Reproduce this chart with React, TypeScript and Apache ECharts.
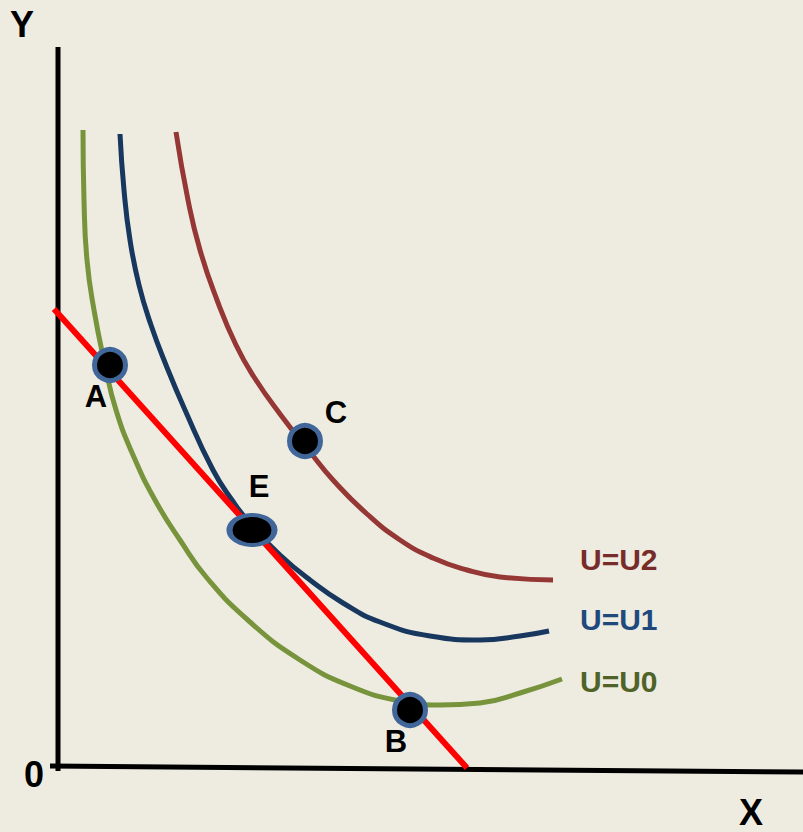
import React, { useEffect, useRef } from "react";
import * as echarts from "echarts";

// Units: arbitrary quantity units
const curveU0: [number, number][] = [
  [2.3, 63.8], [2.4, 56.8], [2.7, 50.8], [3.4, 45.8], [4.5, 40.3], [5.6, 35.8],
  [7.3, 31.3], [9.5, 26.8], [12.0, 22.8], [14.7, 19.0], [19.0, 14.6], [24.0, 10.8],
  [29.0, 8.2], [34.0, 6.7], [38.0, 6.3], [42.0, 6.5], [46.0, 7.5], [50.2, 8.9],
];
const curveU1: [number, number][] = [
  [6.0, 63.4], [6.4, 57.8], [7.0, 52.8], [7.9, 48.3], [9.1, 44.3], [10.6, 40.3],
  [12.5, 35.8], [15.3, 29.8], [17.2, 26.8], [19.2, 24.2], [22.0, 21.3], [25.0, 18.8],
  [28.3, 16.5], [32.0, 14.6], [37.0, 13.2], [42.0, 12.8], [46.0, 13.2], [48.9, 13.7],
];
const curveU2: [number, number][] = [
  [11.6, 63.6], [12.8, 56.8], [14.0, 51.8], [15.7, 46.8], [17.6, 42.3], [19.4, 39.1],
  [22.0, 35.4], [25.0, 31.6], [27.3, 28.8], [30.7, 25.4], [34.0, 22.8], [37.3, 21.0],
  [40.7, 19.8], [44.0, 19.1], [49.3, 18.8],
];
const budgetLine: [number, number][] = [[-0.6, 45.9], [40.7, 0]];
const yAxisLine: [number, number][] = [[-0.2, -0.3], [-0.2, 72.1]];
const xAxisLine: [number, number][] = [[-1.0, 0.2], [74.3, -0.4]];

const pointNames = ["A", "B", "C"];
const pointValues: [number, number][] = [[5.0, 40.3], [35.0, 5.8], [24.5, 32.7]];
const equilibriumName = "E";
const equilibriumValue: [number, number] = [19.2, 23.8];

const curveLabels = ["U=U2", "U=U1", "U=U0"];
const axisLabels = ["Y", "X", "0"];

const FONT = "'Liberation Sans', Arial, sans-serif";

export default function App() {
  const ref = useRef<HTMLDivElement>(null);
  useEffect(() => {
    if (!ref.current) return;
    const chart = echarts.init(ref.current, undefined, { renderer: "svg" });
    const lineSeries = (data: [number, number][], color: string, width: number, smooth: boolean, z = 2) => ({
      type: "line",
      data,
      smooth: smooth ? 0.5 : false,
      symbol: "none",
      clip: false,
      z,
      lineStyle: { color, width, cap: "butt" },
      silent: true,
    });
    const dotStyle = { color: "#000000", borderColor: "#41669A", borderWidth: 5, opacity: 1 };
    const labelStyle = {
      show: true,
      position: "inside",
      fontFamily: FONT,
      fontWeight: "bold",
      fontSize: 31,
      color: "#000000",
      opacity: 1,
    };
    const offsets: [number, number][] = [[-14, 31], [-14, 31], [31, -29]];
    chart.setOption({
      animation: false,
      backgroundColor: "#EEECE1",
      grid: { left: 0, right: 0, top: 0, bottom: 0 },
      xAxis: { type: "value", min: -6, max: 74.3, show: false },
      yAxis: { type: "value", min: -6.4, max: 76.8, show: false },
      series: [
        lineSeries(yAxisLine, "#000000", 5, false, 1),
        lineSeries(xAxisLine, "#000000", 5, false, 1),
        lineSeries(curveU0, "#77933C", 5, true),
        lineSeries(curveU1, "#17375E", 5, true),
        lineSeries(curveU2, "#953735", 5, true),
        lineSeries(budgetLine, "#FF0000", 6, false, 3),
        {
          type: "scatter",
          z: 5,
          symbol: "circle",
          symbolSize: 31,
          itemStyle: dotStyle,
          emphasis: { disabled: true },
          data: pointValues.map((v, i) => ({
            name: pointNames[i],
            value: v,
            label: { ...labelStyle, formatter: pointNames[i], offset: offsets[i] },
          })),
        },
        {
          type: "scatter",
          z: 5,
          symbol: "circle",
          symbolSize: [45, 30],
          itemStyle: dotStyle,
          emphasis: { disabled: true },
          data: [
            {
              name: equilibriumName,
              value: equilibriumValue,
              label: { ...labelStyle, formatter: equilibriumName, offset: [7, -44] },
            },
          ],
        },
      ],
      graphic: [
        { type: "text", left: 10, top: 6, style: { text: axisLabels[0], font: `bold 36px ${FONT}`, fill: "#000000" } },
        { type: "text", left: 739, top: 794, style: { text: axisLabels[1], font: `bold 36px ${FONT}`, fill: "#000000" } },
        { type: "text", left: 24, top: 756, style: { text: axisLabels[2], font: `bold 36px ${FONT}`, fill: "#000000" } },
        { type: "text", left: 580, top: 544, style: { text: curveLabels[0], font: `bold 30px ${FONT}`, fill: "#772C2A" } },
        { type: "text", left: 580, top: 604, style: { text: curveLabels[1], font: `bold 30px ${FONT}`, fill: "#1F497D" } },
        { type: "text", left: 580, top: 666, style: { text: curveLabels[2], font: `bold 30px ${FONT}`, fill: "#4F6228" } },
      ],
    });
    return () => chart.dispose();
  }, []);
  return <div ref={ref} style={{ position: "fixed", left: 0, top: 0, width: 803, height: 832 }} />;
}
